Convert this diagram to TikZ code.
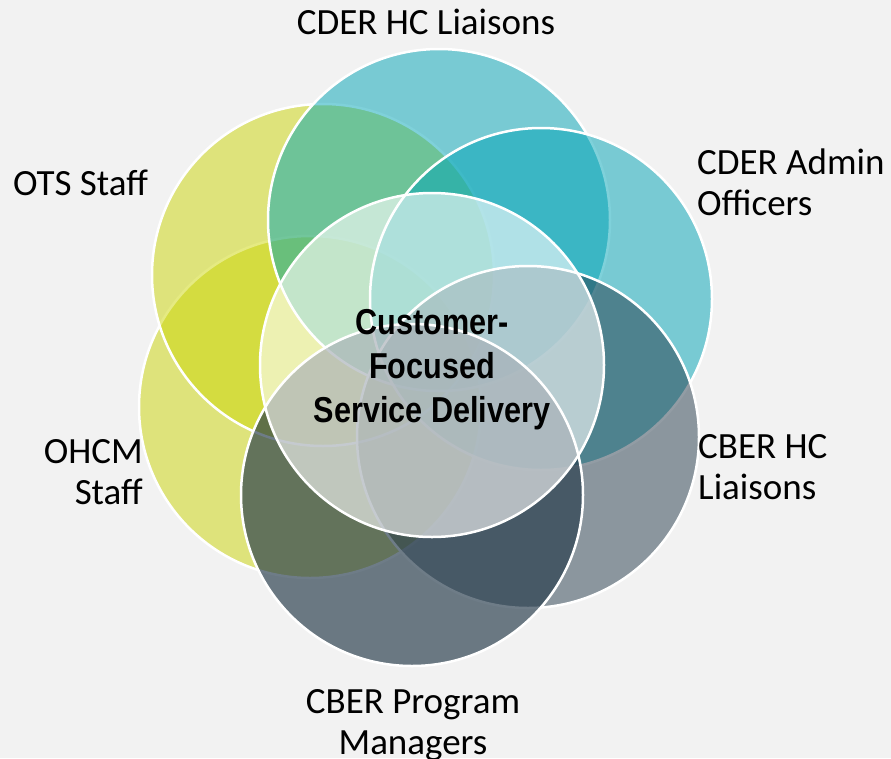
\documentclass[tikz,border=0pt]{standalone}
\usepackage{fontspec}
\setmainfont{Carlito}
\newfontfamily\hubfont[FakeStretch=0.85]{Liberation Sans}
\usepackage{xcolor}
\usepackage{tikz}

\definecolor{bggray}{HTML}{F2F2F2}
\definecolor{lime}{HTML}{CCD606}
\definecolor{aqua}{HTML}{00A4B6}
\definecolor{slate}{HTML}{263B4B}

\begin{document}
\begin{tikzpicture}[
        x=1pt, y=-1pt,
        venn/.style={circle, draw=white, line width=2.5pt, minimum size=342pt, inner sep=0pt, fill opacity=0.5},
        lbl/.style={inner sep=0pt, font=\fontsize{37}{41}\selectfont},
        hub/.style={inner sep=0pt, align=center, font=\hubfont\bfseries\fontsize{36}{44}\selectfont}
    ]
        \fill[bggray] (0,0) rectangle (891,758);
        \useasboundingbox (0,0) rectangle (891,758);
        \node[venn, fill=lime] (ohcm) at (310,407) {};
        \node[venn, fill=lime] (ots) at (323,275) {};
        \node[venn, fill=aqua] (cderhc) at (439,220) {};
        \node[venn, fill=aqua] (cderadmin) at (541,299) {};
        \node[venn, fill=slate] (cberhc) at (528,437) {};
        \node[venn, fill=slate, fill opacity=0.665] (cberpm) at (412,495) {};
        \node[venn, fill=white, fill opacity=0.6, minimum size=344pt] (core) at (432,365) {};
        \node[hub, anchor=north] (corelbl) at (432,309) {Customer-\\Focused\\Service Delivery};
        \node[lbl, anchor=base] (cderhclbl) at (426,34) {CDER HC Liaisons};
        \node[lbl, anchor=north west, align=left] (cderadminlbl) at (697,149) {CDER Admin\\Officers};
        \node[lbl, anchor=base west] (otslbl) at (13,195) {OTS Staff};
        \node[lbl, anchor=north east, align=right] (ohcmlbl) at (143,439) {OHCM\\Staff};
        \node[lbl, anchor=north west, align=left] (cberhclbl) at (698,434) {CBER HC\\Liaisons};
        \node[lbl, anchor=north, align=center] (cberpmlbl) at (413,689) {CBER Program\\Managers};
    \end{tikzpicture}
\end{document}
